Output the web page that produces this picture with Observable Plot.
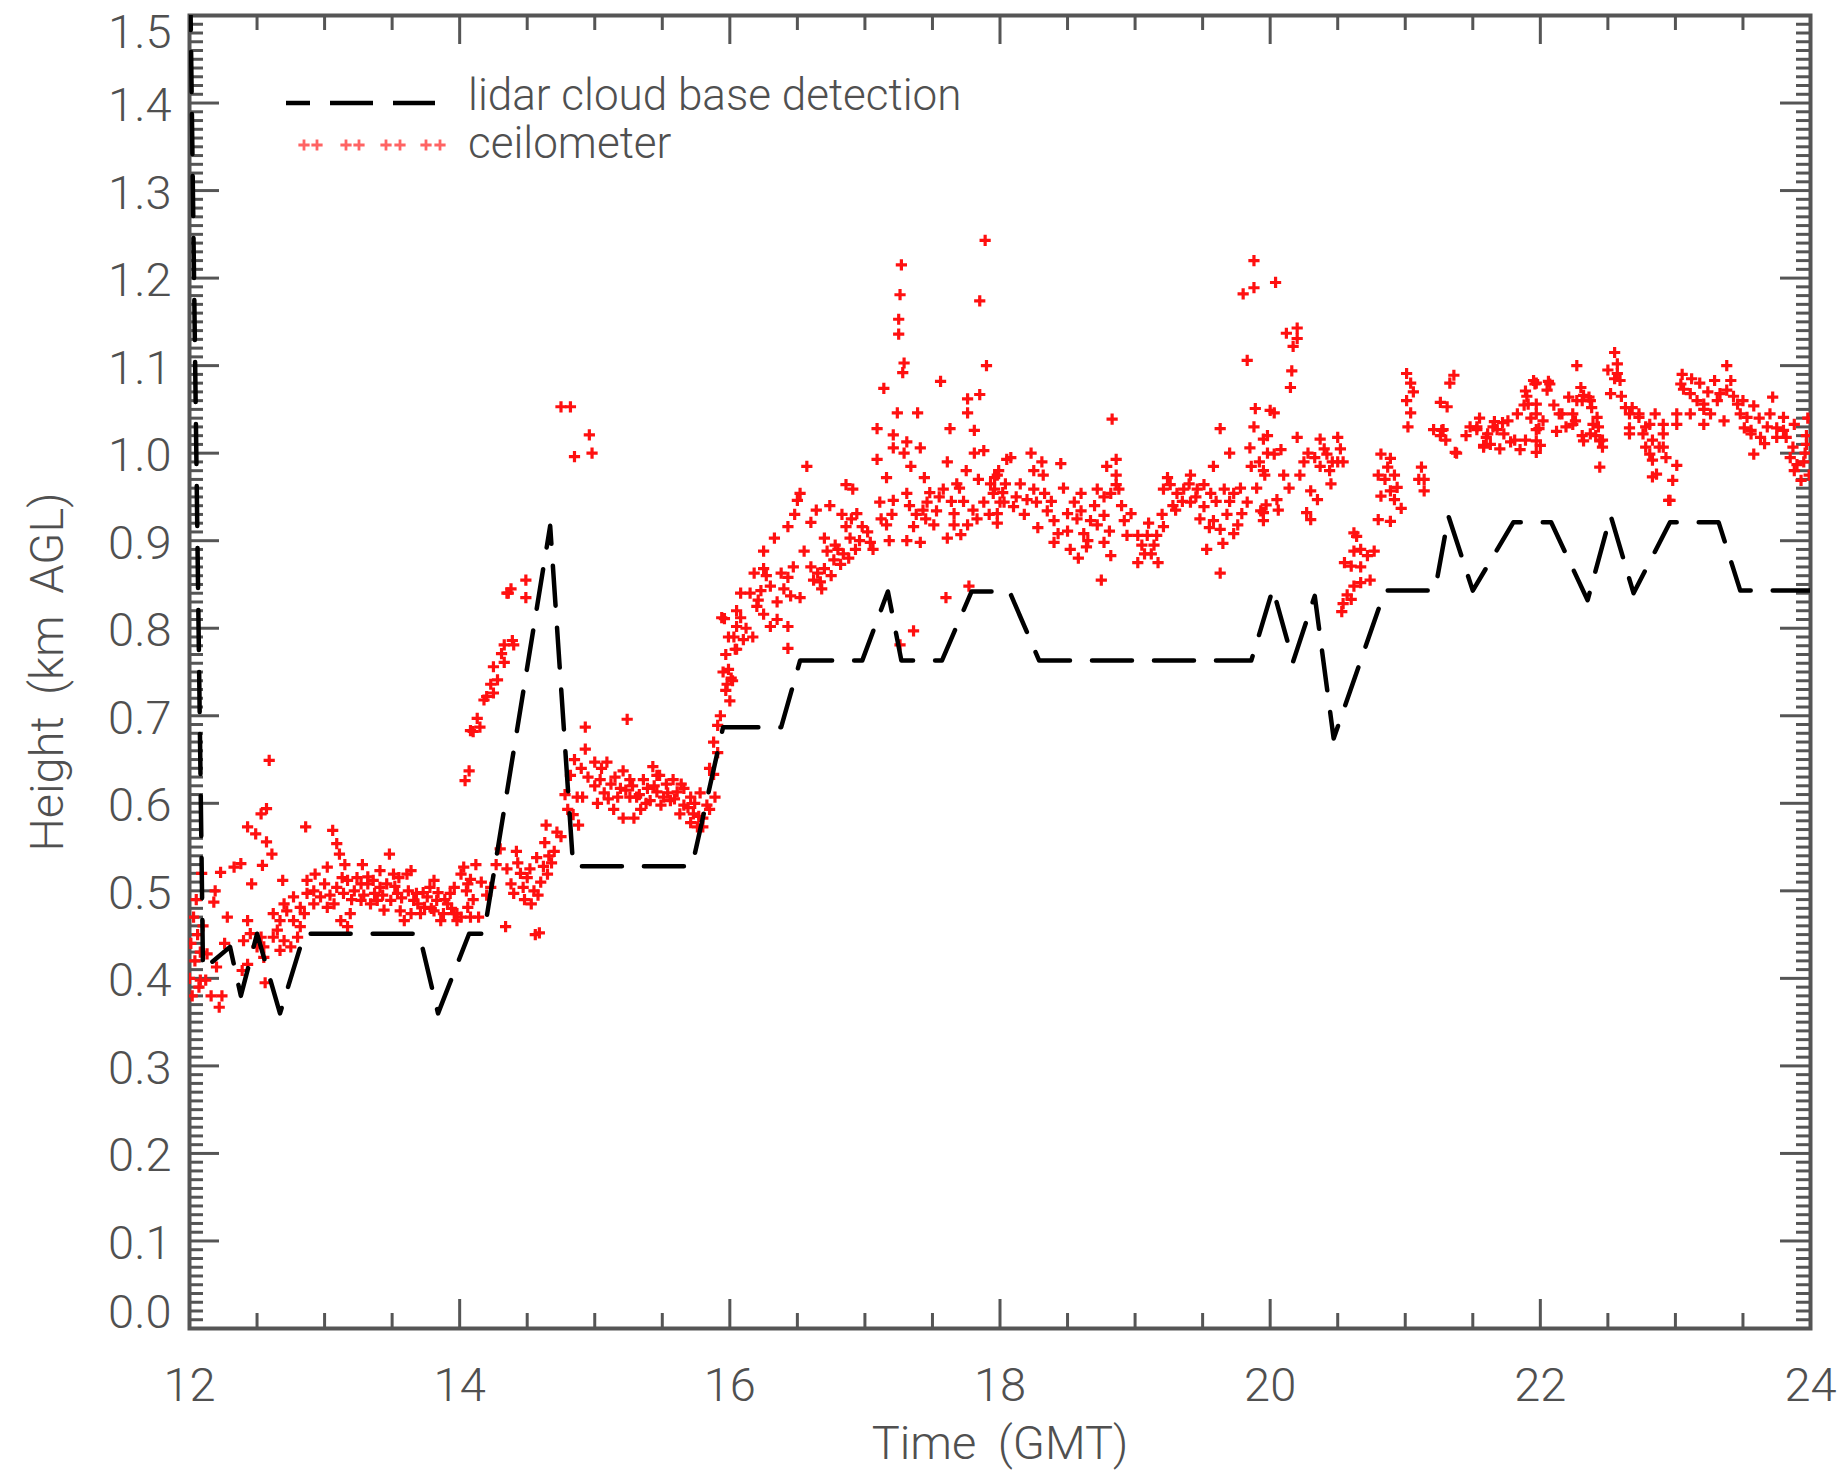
<!DOCTYPE html>
<html>
<head>
<meta charset="utf-8">
<script src="https://cdn.jsdelivr.net/npm/d3@7"></script>
<script src="https://cdn.jsdelivr.net/npm/@observablehq/plot@0.6"></script>
<style>
html, body { margin: 0; padding: 0; background: #fff; }
#wrap { position: relative; width: 1842px; height: 1479px; }
#wrap svg { display: block; }
#legend { position: absolute; left: 0; top: 0; pointer-events: none; }
</style>
</head>
<body>
<div id="wrap"></div>
<script>
// ---------------- data ----------------
const lidarTime = [12.00,12.10,12.30,12.38,12.50,12.67,12.85,13.70,13.84,14.07,14.18,14.67,14.84,15.72,15.95,16.38,16.52,16.98,17.17,17.27,17.57,17.79,18.07,18.29,19.86,20.02,20.17,20.33,20.47,20.85,21.22,21.32,21.50,21.80,22.08,22.35,22.52,22.69,22.96,23.32,23.48,24.00];
const lidarHeight = [1.60,0.410,0.436,0.380,0.451,0.360,0.451,0.451,0.360,0.451,0.451,0.917,0.528,0.528,0.687,0.687,0.763,0.763,0.842,0.763,0.763,0.842,0.842,0.763,0.763,0.845,0.762,0.837,0.674,0.843,0.843,0.928,0.843,0.921,0.921,0.832,0.929,0.840,0.921,0.921,0.843,0.843];

const ceil12 = [[12.00,0.40],[12.01,0.44],[12.02,0.38],[12.03,0.47],[12.04,0.42],[12.05,0.49],[12.06,0.45],[12.07,0.39],[12.08,0.43],[12.09,0.52],[12.08,0.398],[12.10,0.46],[12.12,0.398],[12.13,0.428],[12.16,0.380],[12.18,0.487],[12.19,0.500],[12.20,0.413],[12.22,0.367],[12.23,0.521],[12.24,0.380],[12.26,0.44],[12.28,0.47],[12.33,0.527],[12.38,0.531],[12.39,0.409],[12.40,0.443],[12.43,0.573],[12.43,0.466],[12.43,0.416],[12.45,0.451],[12.46,0.508],[12.49,0.565],[12.50,0.436],[12.53,0.588],[12.53,0.447],[12.54,0.529],[12.55,0.436],[12.55,0.424],[12.56,0.395],[12.57,0.594],[12.57,0.556],[12.59,0.649],[12.61,0.542],[12.62,0.474],[12.62,0.447],[12.65,0.455],[12.67,0.466],[12.67,0.432],[12.69,0.512],[12.70,0.443],[12.70,0.485],[12.72,0.477],[12.75,0.436],[12.77,0.493],[12.77,0.466],[12.80,0.447],[12.82,0.459],[12.82,0.481],[12.85,0.474],[12.86,0.573],[12.87,0.512],[12.87,0.497],[12.92,0.500],[12.92,0.485],[12.93,0.519],[12.97,0.493]];
const ceil13 = [[13.00,0.508],[13.02,0.527],[13.02,0.481],[13.04,0.495],[13.06,0.569],[13.07,0.485],[13.09,0.554],[13.09,0.504],[13.11,0.542],[13.12,0.466],[13.13,0.515],[13.14,0.497],[13.15,0.530],[13.17,0.512],[13.17,0.459],[13.19,0.474],[13.20,0.490],[13.22,0.500],[13.24,0.515],[13.27,0.489],[13.27,0.508],[13.28,0.530],[13.29,0.495],[13.32,0.508],[13.32,0.516],[13.34,0.485],[13.36,0.512],[13.37,0.497],[13.39,0.489],[13.41,0.504],[13.41,0.523],[13.43,0.495],[13.44,0.478],[13.46,0.508],[13.48,0.542],[13.49,0.489],[13.51,0.519],[13.52,0.505],[13.54,0.497],[13.55,0.515],[13.56,0.477],[13.57,0.492],[13.59,0.466],[13.61,0.519],[13.62,0.500],[13.64,0.474],[13.64,0.523],[13.66,0.489],[13.68,0.497],[13.69,0.485],[13.71,0.474],[13.73,0.498],[13.74,0.481],[13.76,0.493],[13.78,0.504],[13.79,0.480],[13.81,0.477],[13.81,0.512],[13.83,0.489],[13.84,0.498],[13.86,0.466],[13.88,0.474],[13.89,0.490],[13.91,0.485],[13.93,0.497],[13.94,0.480],[13.96,0.474],[13.96,0.504],[13.98,0.466],[13.98,0.474]];
const ceil14 = [[14.01,0.519],[14.01,0.470],[14.03,0.527],[14.04,0.626],[14.05,0.500],[14.06,0.508],[14.06,0.481],[14.07,0.637],[14.08,0.683],[14.08,0.513],[14.08,0.470],[14.10,0.490],[14.10,0.682],[14.12,0.530],[14.13,0.697],[14.14,0.470],[14.15,0.687],[14.16,0.510],[14.18,0.718],[14.20,0.722],[14.20,0.495],[14.23,0.736],[14.23,0.504],[14.25,0.726],[14.25,0.756],[14.27,0.530],[14.28,0.741],[14.30,0.548],[14.31,0.771],[14.33,0.761],[14.33,0.781],[14.34,0.459],[14.35,0.840],[14.35,0.525],[14.36,0.840],[14.38,0.508],[14.38,0.845],[14.39,0.786],[14.40,0.781],[14.40,0.497],[14.42,0.545],[14.43,0.532],[14.45,0.520],[14.47,0.504],[14.48,0.490],[14.49,0.835],[14.49,0.855],[14.50,0.515],[14.52,0.525],[14.53,0.485],[14.55,0.500],[14.56,0.450],[14.57,0.538],[14.58,0.495],[14.59,0.452],[14.60,0.510],[14.62,0.528],[14.63,0.555],[14.64,0.575],[14.65,0.519],[14.66,0.540],[14.68,0.532],[14.70,0.545],[14.72,0.567],[14.75,0.562],[14.75,1.053],[14.78,0.610],[14.80,0.593],[14.82,1.053],[14.82,0.632],[14.84,0.587],[14.85,0.996],[14.85,0.650],[14.87,0.607],[14.88,0.575],[14.90,0.640],[14.91,0.607],[14.93,0.687],[14.93,0.662],[14.95,0.630],[14.96,1.021],[14.98,1.000]];
const ceil15 = [[15.00,0.647],[15.00,0.620],[15.02,0.600],[15.04,0.627],[15.05,0.640],[15.07,0.612],[15.09,0.647],[15.10,0.605],[15.12,0.622],[15.14,0.593],[15.15,0.630],[15.17,0.607],[15.19,0.617],[15.21,0.583],[15.21,0.637],[15.23,0.615],[15.24,0.696],[15.26,0.627],[15.26,0.607],[15.28,0.620],[15.29,0.583],[15.31,0.607],[15.33,0.610],[15.34,0.593],[15.36,0.627],[15.38,0.600],[15.39,0.617],[15.41,0.603],[15.43,0.642],[15.44,0.620],[15.46,0.613],[15.46,0.632],[15.48,0.632],[15.49,0.598],[15.51,0.607],[15.53,0.622],[15.54,0.612],[15.56,0.603],[15.58,0.627],[15.59,0.605],[15.61,0.613],[15.63,0.588],[15.64,0.622],[15.66,0.598],[15.66,0.617],[15.69,0.595],[15.71,0.578],[15.71,0.607],[15.73,0.588],[15.74,0.600],[15.76,0.573],[15.77,0.585],[15.78,0.612],[15.80,0.583],[15.80,0.573],[15.83,0.598],[15.85,0.593],[15.85,0.640],[15.88,0.633],[15.88,0.670],[15.89,0.607],[15.91,0.689],[15.91,0.658],[15.93,0.700],[15.94,0.812],[15.95,0.750],[15.96,0.811],[15.97,0.729],[15.97,0.770],[15.98,0.736],[15.99,0.753],[15.99,0.790]];
const ceil16 = [[16.00,0.717],[16.01,0.743],[16.02,0.740],[16.03,0.790],[16.04,0.776],[16.05,0.802],[16.05,0.776],[16.05,0.820],[16.08,0.812],[16.08,0.840],[16.10,0.787],[16.12,0.800],[16.15,0.840],[16.17,0.790],[16.18,0.863],[16.20,0.825],[16.21,0.832],[16.23,0.843],[16.25,0.888],[16.25,0.868],[16.25,0.816],[16.27,0.860],[16.30,0.848],[16.30,0.802],[16.33,0.903],[16.35,0.830],[16.35,0.810],[16.38,0.863],[16.40,0.845],[16.43,0.916],[16.43,0.858],[16.43,0.802],[16.43,0.777],[16.45,0.837],[16.47,0.870],[16.48,0.930],[16.50,0.946],[16.52,0.954],[16.52,0.835],[16.55,0.888],[16.57,0.985],[16.60,0.921],[16.60,0.870],[16.62,0.855],[16.64,0.935],[16.65,0.863],[16.67,0.853],[16.68,0.845],[16.70,0.903],[16.70,0.868],[16.72,0.888],[16.74,0.940],[16.75,0.860],[16.77,0.878],[16.78,0.895],[16.80,0.890],[16.82,0.873],[16.83,0.930],[16.84,0.885],[16.86,0.964],[16.86,0.916],[16.88,0.880],[16.89,0.903],[16.90,0.925],[16.91,0.959],[16.93,0.890],[16.94,0.931],[16.96,0.900],[16.98,0.916]];
const ceil17 = [[17.02,0.910],[17.04,0.898],[17.06,0.890],[17.09,1.028],[17.09,0.993],[17.11,0.944],[17.12,0.925],[17.14,1.074],[17.16,0.972],[17.16,0.918],[17.18,0.900],[17.20,0.930],[17.21,1.021],[17.21,1.006],[17.21,0.946],[17.24,1.046],[17.25,1.153],[17.25,1.136],[17.26,1.181],[17.26,0.781],[17.27,1.215],[17.28,1.092],[17.29,1.103],[17.29,1.000],[17.31,1.013],[17.31,0.954],[17.31,0.900],[17.33,0.940],[17.34,0.985],[17.36,0.916],[17.36,0.797],[17.38,0.930],[17.39,1.046],[17.41,1.006],[17.41,0.898],[17.43,0.935],[17.44,0.972],[17.45,0.925],[17.46,0.944],[17.48,0.955],[17.51,0.918],[17.53,0.934],[17.55,0.950],[17.56,1.082],[17.58,0.959],[17.60,0.835],[17.61,0.990],[17.61,0.903],[17.63,1.028],[17.64,0.945],[17.66,0.931],[17.66,0.918],[17.68,0.965],[17.70,0.960],[17.71,0.907],[17.73,0.945],[17.75,0.980],[17.76,1.062],[17.76,1.046],[17.76,0.918],[17.77,0.848],[17.80,0.935],[17.81,1.026],[17.81,1.000],[17.83,0.925],[17.84,0.970],[17.85,1.174],[17.85,1.067],[17.88,1.003],[17.88,0.944],[17.89,1.243],[17.90,1.100],[17.92,0.930],[17.93,0.965],[17.95,0.954],[17.96,0.972],[17.96,0.959],[17.98,0.920],[17.98,0.975],[17.98,0.931],[17.99,0.980]];
const ceil18 = [[18.00,0.944],[18.02,0.955],[18.03,0.944],[18.04,0.965],[18.05,0.993],[18.08,0.995],[18.10,0.939],[18.12,0.950],[18.15,0.965],[18.18,0.930],[18.20,0.947],[18.23,1.000],[18.25,0.959],[18.25,0.980],[18.27,0.944],[18.28,0.915],[18.31,0.990],[18.32,0.975],[18.33,0.954],[18.35,0.934],[18.38,0.945],[18.40,0.923],[18.40,0.898],[18.43,0.908],[18.45,0.988],[18.47,0.960],[18.50,0.931],[18.50,0.911],[18.52,0.890],[18.55,0.944],[18.57,0.925],[18.58,0.880],[18.60,0.954],[18.60,0.934],[18.62,0.908],[18.64,0.893],[18.65,0.900],[18.67,0.923],[18.70,0.940],[18.72,0.959],[18.72,0.918],[18.75,0.855],[18.77,0.950],[18.77,0.929],[18.77,0.898],[18.79,0.985],[18.81,0.911],[18.82,0.954],[18.82,0.883],[18.83,1.039],[18.86,0.993],[18.86,0.975],[18.86,0.964],[18.88,0.959],[18.90,0.940],[18.92,0.923],[18.94,0.906],[18.97,0.931]];
const ceil19 = [[19.02,0.906],[19.02,0.875],[19.05,0.895],[19.07,0.885],[19.09,0.906],[19.10,0.920],[19.12,0.885],[19.14,0.895],[19.16,0.906],[19.17,0.875],[19.20,0.930],[19.21,0.916],[19.21,0.959],[19.24,0.972],[19.26,0.964],[19.28,0.940],[19.30,0.935],[19.31,0.954],[19.35,0.945],[19.36,0.959],[19.40,0.965],[19.41,0.975],[19.41,0.944],[19.45,0.950],[19.46,0.959],[19.48,0.925],[19.51,0.964],[19.51,0.939],[19.53,0.890],[19.55,0.915],[19.56,0.954],[19.58,0.985],[19.58,0.923],[19.60,0.945],[19.63,1.028],[19.63,0.913],[19.63,0.863],[19.65,0.897],[19.66,0.959],[19.68,0.930],[19.70,1.000],[19.70,0.945],[19.73,0.954],[19.73,0.908],[19.76,0.918],[19.78,0.960],[19.79,0.931],[19.80,1.182],[19.83,1.106],[19.83,0.944],[19.85,1.006],[19.86,0.985],[19.88,1.220],[19.88,1.189],[19.88,1.030],[19.89,1.051],[19.90,0.960],[19.92,0.990],[19.93,0.934],[19.95,1.016],[19.95,0.980],[19.95,0.932],[19.95,0.923],[19.96,0.975],[19.97,0.941],[19.98,1.020],[19.98,1.000]];
const ceil20 = [[20.00,1.049],[20.03,1.046],[20.03,0.999],[20.04,1.195],[20.05,0.947],[20.06,0.935],[20.08,1.004],[20.10,0.975],[20.12,1.137],[20.14,0.960],[20.15,1.075],[20.16,1.094],[20.17,1.122],[20.20,1.143],[20.20,1.131],[20.20,1.018],[20.22,0.975],[20.25,0.990],[20.27,0.932],[20.28,1.000],[20.30,0.957],[20.30,0.924],[20.33,0.995],[20.35,0.947],[20.37,1.016],[20.37,0.985],[20.40,1.005],[20.42,0.999],[20.44,0.980],[20.45,0.965],[20.46,0.990],[20.50,1.018],[20.50,0.990],[20.52,1.005],[20.53,0.819],[20.54,0.990],[20.54,0.828],[20.55,0.875],[20.57,0.838],[20.60,0.871],[20.60,0.833],[20.62,0.909],[20.62,0.888],[20.62,0.848],[20.64,0.905],[20.67,0.890],[20.67,0.870],[20.67,0.852],[20.72,0.883],[20.74,0.855],[20.77,0.888],[20.80,0.975],[20.80,0.924],[20.82,0.999],[20.82,0.951],[20.85,0.970],[20.87,0.984],[20.89,0.994],[20.89,0.957],[20.89,0.922],[20.92,0.975],[20.92,0.947],[20.94,0.961],[20.97,0.937]];
const ceil21 = [[21.01,1.091],[21.01,1.060],[21.02,1.030],[21.04,1.080],[21.04,1.046],[21.06,1.070],[21.10,0.970],[21.12,0.984],[21.14,0.970],[21.14,0.957],[21.21,1.027],[21.26,1.058],[21.26,1.020],[21.27,1.026],[21.28,1.027],[21.30,1.015],[21.31,1.053],[21.33,1.080],[21.36,1.089],[21.37,1.001],[21.38,1.000],[21.45,1.020],[21.48,1.030],[21.53,1.027],[21.53,1.030],[21.55,1.040],[21.58,1.009],[21.58,1.007],[21.60,1.018],[21.61,1.022],[21.63,1.010],[21.65,1.030],[21.66,1.036],[21.68,1.027],[21.70,1.005],[21.72,1.035],[21.73,1.022],[21.76,1.037],[21.78,1.013],[21.81,1.015],[21.83,1.045],[21.85,1.004],[21.88,1.055],[21.89,1.071],[21.89,1.015],[21.90,1.065],[21.91,1.056],[21.93,1.040],[21.95,1.083],[21.96,1.079],[21.97,1.080],[21.97,1.056],[21.97,1.045],[21.97,1.027],[21.97,1.014],[21.97,1.001],[21.99,1.028]];
const ceil22 = [[22.00,1.009],[22.02,1.037],[22.05,1.072],[22.06,1.082],[22.07,1.079],[22.10,1.055],[22.12,1.025],[22.14,1.045],[22.16,1.045],[22.19,1.030],[22.21,1.064],[22.24,1.045],[22.24,1.033],[22.26,1.037],[22.27,1.060],[22.27,1.100],[22.30,1.075],[22.31,1.060],[22.31,1.020],[22.32,1.066],[22.32,1.014],[22.36,1.064],[22.37,1.060],[22.37,1.022],[22.38,1.052],[22.39,1.033],[22.41,1.020],[22.42,1.041],[22.43,1.030],[22.44,1.014],[22.44,0.984],[22.46,1.007],[22.46,1.015],[22.50,1.095],[22.52,1.068],[22.55,1.115],[22.55,1.085],[22.57,1.102],[22.57,1.091],[22.59,1.083],[22.60,1.065],[22.63,1.052],[22.66,1.045],[22.66,1.029],[22.66,1.022],[22.68,1.052],[22.73,1.045],[22.73,1.041],[22.76,1.022],[22.78,1.030],[22.78,1.007],[22.81,1.033],[22.81,0.999],[22.83,1.015],[22.83,0.992],[22.83,0.973],[22.85,1.045],[22.86,0.976],[22.88,1.007],[22.91,1.033],[22.91,1.022],[22.91,1.007],[22.93,0.995],[22.95,0.946],[22.96,0.946],[22.98,0.969]];
const ceil23 = [[23.01,1.045],[23.01,1.033],[23.01,0.986],[23.04,1.079],[23.05,1.090],[23.06,1.073],[23.11,1.068],[23.11,1.045],[23.12,1.085],[23.16,1.060],[23.18,1.080],[23.21,1.056],[23.21,1.050],[23.21,1.033],[23.24,1.070],[23.26,1.045],[23.29,1.083],[23.31,1.060],[23.33,1.068],[23.36,1.037],[23.38,1.100],[23.38,1.072],[23.41,1.083],[23.43,1.065],[23.46,1.056],[23.48,1.045],[23.50,1.060],[23.51,1.029],[23.53,1.041],[23.56,1.026],[23.56,1.022],[23.58,1.054],[23.58,0.999],[23.62,1.040],[23.63,1.018],[23.66,1.011],[23.68,1.030],[23.70,1.045],[23.72,1.064],[23.75,1.029],[23.75,1.018],[23.80,1.041],[23.80,1.026],[23.82,1.018],[23.85,0.995],[23.87,1.007],[23.88,1.033],[23.88,0.980],[23.90,0.987],[23.93,0.969],[23.95,0.990],[23.96,1.000],[23.97,1.020],[23.97,1.010],[23.98,1.040],[23.99,0.975]];

const xTicks = [12, 14, 16, 18, 20, 22, 24];
const xTickLabels = ["12", "14", "16", "18", "20", "22", "24"];
const yTicks = [0.0, 0.1, 0.2, 0.3, 0.4, 0.5, 0.6, 0.7, 0.8, 0.9, 1.0, 1.1, 1.2, 1.3, 1.4, 1.5];
const yTickLabels = ["0.0","0.1","0.2","0.3","0.4","0.5","0.6","0.7","0.8","0.9","1.0","1.1","1.2","1.3","1.4","1.5"];
const xTitle = "Time (GMT)";
const yTitle = "Height (km AGL)";
const legendLabels = ["lidar cloud base detection", "ceilometer"];

// ---------------- derived tables ----------------
const lidar = lidarTime.map((t, i) => ({t, h: lidarHeight[i]}));
const ceilometer = [].concat(ceil12, ceil13, ceil14, ceil15, ceil16, ceil17, ceil18, ceil19, ceil20, ceil21, ceil22, ceil23);
const yMinor = d3.range(0, 151).filter(i => i % 10 !== 0).map(i => i / 100);
const xMinor = d3.range(24, 49).filter(i => i % 4 !== 0).map(i => i / 2);
const yLab = yTicks.map((v, i) => ({v, label: yTickLabels[i]}));
const xLab = xTicks.map((v, i) => ({v, label: xTickLabels[i]}));

// ---------------- layout ----------------
const W = 1842, H = 1479;
const mL = 189, mR = 32, mT = 15, mB = 151;
const FW = W - mL - mR, FH = H - mT - mB;
const AX = "#555";
const TXT = "#505050";
const FONT = "Roboto, 'Liberation Sans', Arial, sans-serif";
const tickW = 3;
const RED = "#ff1010";
const MR = 3.7, MSW = 3.2;
const txt = {fontSize: 47, fontFamily: FONT, fontWeight: 300, fill: TXT};

const chart = Plot.plot({
  width: W, height: H,
  marginLeft: mL, marginRight: mR, marginTop: mT, marginBottom: mB,
  style: {background: "#fff", overflow: "visible"},
  x: {domain: [12, 24], axis: null},
  y: {domain: [0, 1.5], axis: null},
  marks: [
    // minor / major ticks (inward)
    Plot.tickY(yMinor, {y: d => d, insetRight: FW - 14, stroke: AX, strokeWidth: tickW}),
    Plot.tickY(yMinor, {y: d => d, insetLeft: FW - 14, stroke: AX, strokeWidth: tickW}),
    Plot.tickY(yTicks, {y: d => d, insetRight: FW - 30, stroke: AX, strokeWidth: tickW}),
    Plot.tickY(yTicks, {y: d => d, insetLeft: FW - 30, stroke: AX, strokeWidth: tickW}),
    Plot.tickX(xMinor, {x: d => d, insetTop: FH - 15, stroke: AX, strokeWidth: tickW}),
    Plot.tickX(xMinor, {x: d => d, insetBottom: FH - 15, stroke: AX, strokeWidth: tickW}),
    Plot.tickX(xTicks, {x: d => d, insetTop: FH - 29, stroke: AX, strokeWidth: tickW}),
    Plot.tickX(xTicks, {x: d => d, insetBottom: FH - 29, stroke: AX, strokeWidth: tickW}),
    Plot.frame({stroke: AX, strokeWidth: 4}),
    // data
    Plot.dot(ceilometer, {x: d => d[0], y: d => d[1], symbol: "plus", r: MR, stroke: RED, strokeWidth: MSW, clip: true}),
    Plot.line(lidar, {x: "t", y: "h", stroke: "#000", strokeWidth: 4.5, strokeDasharray: "40,22", clip: true}),
    // tick labels
    Plot.text(yLab, {filter: (d, i) => i > 0 && i < yLab.length - 1, y: "v", text: "label", frameAnchor: "left", textAnchor: "end", lineAnchor: "middle", dx: -18, dy: 3, ...txt}),
    Plot.text(yLab, {filter: (d, i) => i === 0, y: "v", text: "label", frameAnchor: "left", textAnchor: "end", lineAnchor: "middle", dx: -18, dy: -16, ...txt}),
    Plot.text(yLab, {filter: (d, i) => i === yLab.length - 1, y: "v", text: "label", frameAnchor: "left", textAnchor: "end", lineAnchor: "middle", dx: -18, dy: 17, ...txt}),
    Plot.text(xLab, {x: "v", text: "label", frameAnchor: "bottom", textAnchor: "middle", lineAnchor: "middle", dy: 57, ...txt}),
    // axis titles
    Plot.text([xTitle], {text: d => d, frameAnchor: "bottom", textAnchor: "middle", lineAnchor: "middle", dy: 115, ...txt}),
    Plot.text([yTitle], {text: d => d, frameAnchor: "left", textAnchor: "middle", lineAnchor: "middle", dx: -142, rotate: -90, ...txt})
  ]
});
const wrap = document.getElementById("wrap");
wrap.appendChild(chart);
d3.select(chart).selectAll("text").style("word-spacing", "10px");

// ---------------- legend (inside plot, top-left) ----------------
const lg = d3.select(wrap).append("svg").attr("id", "legend").attr("width", W).attr("height", H);
[[286, 310], [330, 373], [393, 435]].forEach(([a, b]) => {
  lg.append("line").attr("x1", a).attr("x2", b).attr("y1", 103).attr("y2", 103)
    .attr("stroke", "#000").attr("stroke-width", 4.5);
});
const plusPath = d3.symbol(d3.symbolPlus, Math.PI * MR * MR)();
[304, 317, 346, 359, 386, 400, 426, 440].forEach(x => {
  lg.append("path").attr("d", plusPath).attr("transform", `translate(${x},145)`)
    .attr("fill", "none").attr("stroke", RED).attr("stroke-width", 2.8).attr("opacity", 0.65);
});
legendLabels.forEach((s, i) => {
  lg.append("text").attr("x", 468).attr("y", i === 0 ? 110 : 158)
    .attr("font-family", FONT).attr("font-weight", 300).attr("font-size", 44)
    .attr("fill", TXT).text(s);
});
</script>
</body>
</html>
